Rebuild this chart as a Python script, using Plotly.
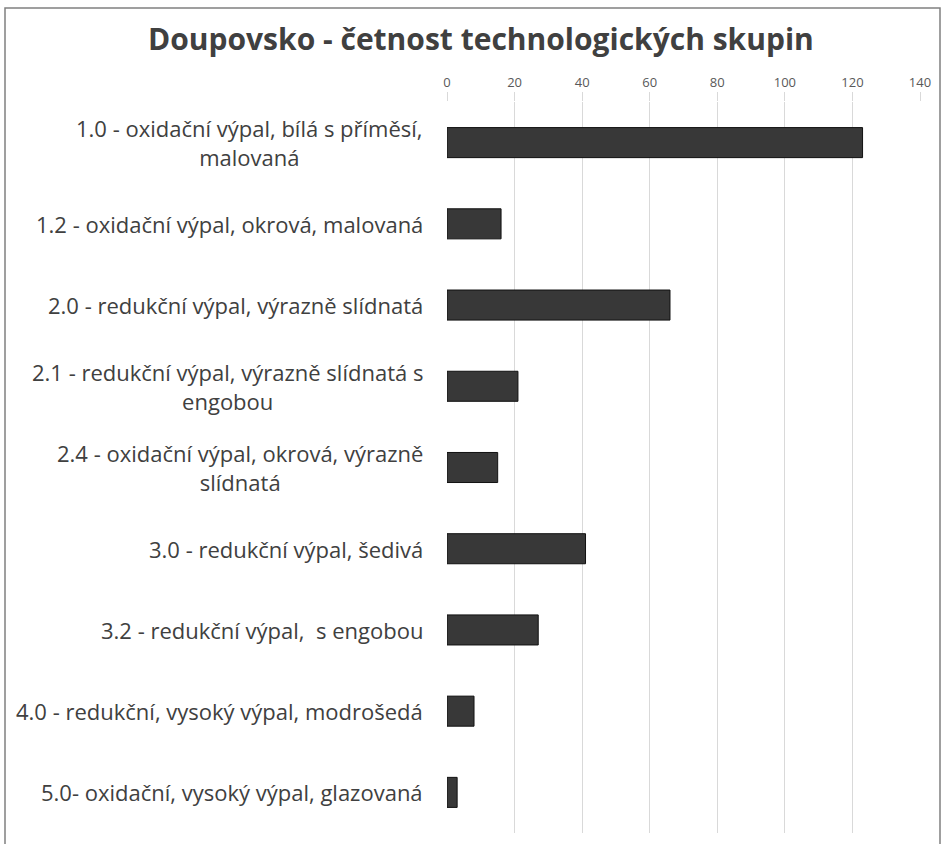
import plotly.graph_objects as go

title = "Doupovsko - četnost technologických skupin"
categories = [
    "1.0 - oxidační výpal, bílá s příměsí,<br>malovaná",
    "1.2 - oxidační výpal, okrová, malovaná",
    "2.0 - redukční výpal, výrazně slídnatá",
    "2.1 - redukční výpal, výrazně slídnatá s<br>engobou",
    "2.4 - oxidační výpal, okrová, výrazně<br>slídnatá",
    "3.0 - redukční výpal, šedivá",
    "3.2 - redukční výpal,  s engobou",
    "4.0 - redukční, vysoký výpal, modrošedá",
    "5.0- oxidační, vysoký výpal, glazovaná",
]
values = [123, 16, 66, 21, 15, 41, 27, 8, 3]
tick_vals = [0, 20, 40, 60, 80, 100, 120, 140]

W, H = 944, 844
L, R, T, B = 447, 24, 102, 11
pw, ph = W - L - R, H - T - B
FONT = "Open Sans, Lato, sans-serif"

def px_x(p):
    return (p - L) / pw

def px_y(p):
    return (H - B - p) / ph

fig = go.Figure(go.Bar(
    x=values, y=categories, orientation="h",
    marker=dict(color="#383838", line=dict(color="#111111", width=1)),
    width=0.37,
))

annotations = [
    dict(text=c, x=0, xref="x", y=c, yref="y", xanchor="right", yanchor="middle",
         xshift=-22, align="center", showarrow=False,
         font=dict(family=FONT, size=22, color="#404040"))
    for c in categories
]
annotations.append(dict(
    text=title, x=px_x(481), xref="paper", y=px_y(38), yref="paper",
    xanchor="center", yanchor="middle", showarrow=False,
    font=dict(family=FONT, size=30, color="#404040", weight="bold"),
))

fig.update_layout(
    width=W, height=H,
    margin=dict(l=L, r=R, t=T, b=B),
    paper_bgcolor="white", plot_bgcolor="white",
    showlegend=False,
    annotations=annotations,
    xaxis=dict(
        range=[0, 140], side="top", tickvals=tick_vals,
        showgrid=True, gridcolor="#d9d9d9", gridwidth=1,
        zeroline=False, showline=False,
        ticks="outside", ticklen=9, tickcolor="#d9d9d9",
        tickfont=dict(family=FONT, size=13, color="#595959"),
    ),
    yaxis=dict(
        categoryorder="array", categoryarray=categories, autorange="reversed",
        showticklabels=False, showgrid=False, zeroline=False, showline=False, ticks="",
    ),
    shapes=[dict(
        type="rect", xref="paper", yref="paper",
        x0=px_x(5), x1=px_x(940), y0=px_y(850), y1=px_y(8),
        line=dict(color="#808080", width=1.5), fillcolor="rgba(0,0,0,0)", layer="below",
    )],
)

fig.write_html("out.html", config={"displayModeBar": False},
               post_script="document.body.style.margin='0';document.body.style.overflow='hidden';")
